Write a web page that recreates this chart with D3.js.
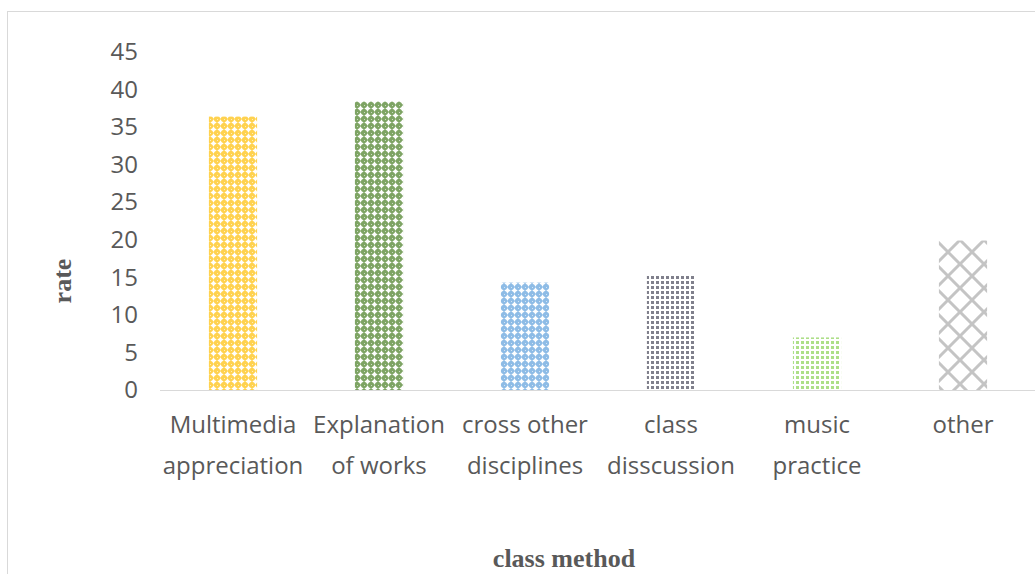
<!DOCTYPE html>
<html>
<head>
<meta charset="utf-8">
<script src="https://cdn.jsdelivr.net/npm/d3@7"></script>
<style>
  body { margin: 0; background: #fff; }
  svg { display: block; }
</style>
</head>
<body>
<div id="root"></div>
<script>
const width = 1035;
const height = 574;
const margin = { top: 52, right: 0, bottom: 184, left: 160 };

// Data

const categories = [
  'Multimedia appreciation',
  'Explanation of works',
  'cross other disciplines',
  'class disscussion',
  'music practice',
  'other',
];
const labelLines = [
  ['Multimedia', 'appreciation'],
  ['Explanation', 'of works'],
  ['cross other', 'disciplines'],
  ['class', 'disscussion'],
  ['music', 'practice'],
  ['other'],
];
const rates = [36.4, 38.4, 14.3, 15.4, 7, 19.9];
const yTicks = [0, 5, 10, 15, 20, 25, 30, 35, 40, 45];
const patternIds = ['latYellow', 'latGreen', 'latBlue', 'dotGrey', 'dotGreen', 'bigLattice'];

const svg = d3
  .select('#root')
  .append('svg')
  .attr('width', width)
  .attr('height', height);

// Chart frame

svg
  .append('rect')
  .attr('x', 7.5)
  .attr('y', 11.5)
  .attr('width', width + 10)
  .attr('height', height + 10)
  .attr('fill', '#fff')
  .attr('stroke', '#d9d9d9');

// Patterns

const defs = svg.append('defs');

function lattice(id, color) {
  const p = defs
    .append('pattern')
    .attr('id', id)
    .attr('patternUnits', 'userSpaceOnUse')
    .attr('width', 7)
    .attr('height', 7);
  p.append('rect').attr('width', 7).attr('height', 7).attr('fill', color);
  p.append('path')
    .attr('d', 'M3.5,0.3 L4.7,2.3 L6.7,3.5 L4.7,4.7 L3.5,6.7 L2.3,4.7 L0.3,3.5 L2.3,2.3 Z')
    .attr('fill', '#fff');
  p.append('rect').attr('x', 0).attr('y', 0).attr('width', 1).attr('height', 1).attr('fill', '#fff').attr('opacity', 0.6);
}

function dots(id, color) {
  const p = defs
    .append('pattern')
    .attr('id', id)
    .attr('patternUnits', 'userSpaceOnUse')
    .attr('width', 5)
    .attr('height', 5);
  p.append('rect').attr('width', 5).attr('height', 5).attr('fill', '#fff');
  p.append('rect').attr('x', 1).attr('y', 1).attr('width', 3).attr('height', 3).attr('fill', color);
}

lattice('latYellow', '#ffd24f');
lattice('latGreen', '#7ea464');
lattice('latBlue', '#8ebce6');
dots('dotGrey', '#80808c');
dots('dotGreen', '#addf88');

const big = defs
  .append('pattern')
  .attr('id', 'bigLattice')
  .attr('patternUnits', 'userSpaceOnUse')
  .attr('width', 24)
  .attr('height', 24);
big.append('rect').attr('width', 24).attr('height', 24).attr('fill', '#fff');
big
  .append('path')
  .attr('d', 'M0,0 L24,24 M24,0 L0,24 M-12,12 L0,24 M0,0 L-12,12 M24,0 L36,12 M36,12 L24,24')
  .attr('stroke', '#c4c4c4')
  .attr('stroke-width', 3);

// Scales

const xScale = d3
  .scaleBand()
  .domain(categories)
  .range([margin.left, 160 + 6 * 146])
  .paddingInner(0.67)
  .paddingOuter(0.335);

const yScale = d3
  .scaleLinear()
  .domain([0, 45])
  .range([height - margin.bottom, margin.top]);

// Y axis labels

const yAxis = d3.axisLeft(yScale).tickValues(yTicks).tickSize(0).tickPadding(0);

const yg = svg
  .append('g')
  .attr('transform', 'translate(138, 0)')
  .call(yAxis);
yg.select('.domain').remove();
yg.selectAll('text')
  .attr('fill', '#595959')
  .style('font-family', '"Open Sans", "Noto Sans", sans-serif')
  .style('font-size', '24px');

// Bars

svg
  .selectAll('rect.bar')
  .data(rates)
  .enter()
  .append('rect')
  .attr('class', 'bar')
  .attr('x', (d, i) => xScale(categories[i]))
  .attr('y', (d) => yScale(d))
  .attr('width', xScale.bandwidth())
  .attr('height', (d) => yScale(0) - yScale(d))
  .attr('fill', (d, i) => `url(#${patternIds[i]})`);

// X axis

svg
  .append('line')
  .attr('x1', margin.left)
  .attr('x2', width)
  .attr('y1', yScale(0) + 0.5)
  .attr('y2', yScale(0) + 0.5)
  .attr('stroke', '#d9d9d9')
  .attr('stroke-width', 1);

const labels = svg
  .selectAll('text.cat')
  .data(categories)
  .enter()
  .append('text')
  .attr('class', 'cat')
  .attr('text-anchor', 'middle')
  .attr('fill', '#595959')
  .style('font-family', '"Open Sans", "Noto Sans", sans-serif')
  .style('font-size', '24px');

labels
  .selectAll('tspan')
  .data((d, i) => labelLines[i].map((t) => ({ t, x: xScale(d) + xScale.bandwidth() / 2 })))
  .enter()
  .append('tspan')
  .attr('x', (d) => d.x)
  .attr('y', (d, j) => 433 + j * 41)
  .text((d) => d.t);

// Axis titles

svg
  .append('text')
  .attr('transform', 'translate(71, 281) rotate(-90)')
  .attr('text-anchor', 'middle')
  .attr('fill', '#595959')
  .style('font-family', '"Liberation Serif", "Times New Roman", serif')
  .style('font-weight', 'bold')
  .style('font-size', '26px')
  .text('rate');

svg
  .append('text')
  .attr('x', 564)
  .attr('y', 567)
  .attr('text-anchor', 'middle')
  .attr('fill', '#595959')
  .style('font-family', '"Liberation Serif", "Times New Roman", serif')
  .style('font-weight', 'bold')
  .style('font-size', '26px')
  .text('class method');
</script>
</body>
</html>
